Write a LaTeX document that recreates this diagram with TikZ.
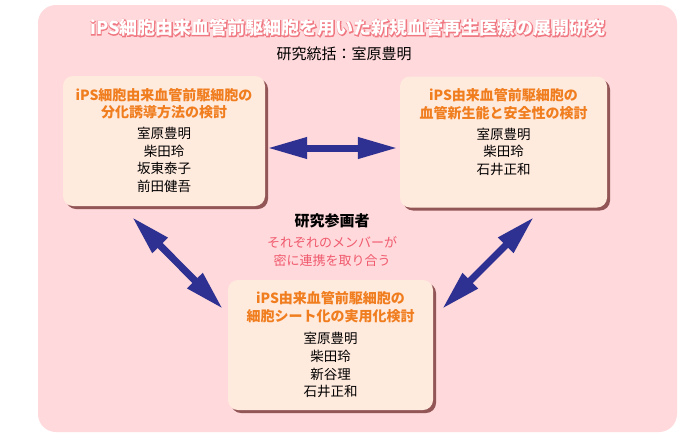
\documentclass[tikz,border=0pt]{standalone}
\usepackage{fontspec}
\setmainfont{Noto Sans CJK JP}
\newfontfamily\outlinefont[FakeBold=8]{Noto Sans CJK JP}
\usetikzlibrary{arrows.meta,shadows}

\definecolor{bgpink}{RGB}{255,217,219}
\definecolor{boxpeach}{RGB}{255,234,222}
\definecolor{titleorange}{RGB}{240,125,30}
\definecolor{arrowblue}{RGB}{46,49,146}
\definecolor{linkred}{RGB}{240,90,110}
\definecolor{outlinepink}{RGB}{240,120,130}

\tikzset{
  study/.style={fill=boxpeach, rounded corners=10pt, inner sep=0pt,
    drop shadow={shadow xshift=3pt, shadow yshift=-3pt, fill=black!70!red, opacity=.6}},
  studytitle/.style={font=\fontsize{14}{17.7}\selectfont\bfseries, text=titleorange, align=center, inner sep=0pt},
  members/.style={font=\fontsize{13.5}{17.7}\selectfont, align=center, inner sep=0pt},
  link/.style={{Triangle[length=40pt,width=20pt]}-{Triangle[length=40pt,width=20pt]}, line width=7pt, draw=arrowblue}
}

\begin{document}
\begin{tikzpicture}[x=1pt, y=-1pt]
    \useasboundingbox (0,0) rectangle (680,437);
    \fill[bgpink, rounded corners=18pt] (38,5) rectangle (677,432);

    % 見出し
    \node[font=\outlinefont\fontsize{18}{20}\selectfont\bfseries, text=outlinepink] (titleline) at (348,28)
        {iPS細胞由来血管前駆細胞を用いた新規血管再生医療の展開研究};
    \node[font=\fontsize{18}{20}\selectfont\bfseries, text=white] (title) at (titleline)
        {iPS細胞由来血管前駆細胞を用いた新規血管再生医療の展開研究};
    \node[font=\fontsize{15}{18}\selectfont] (lead) at (344,54) {研究統括：室原豊明};

    % 三つの研究
    \node[study, minimum width=202pt, minimum height=130pt] (b1) at (164,141) {};
    \node[study, minimum width=207pt, minimum height=131pt] (b2) at (503.5,142) {};
    \node[study, minimum width=205pt, minimum height=130pt] (b3) at (330.5,345) {};

    \node[studytitle] (t1) at ([yshift=-28pt]b1.north) {iPS細胞由来血管前駆細胞の\\分化誘導方法の検討};
    \node[members] (m1) at ([yshift=-84pt]b1.north) {室原豊明\\柴田玲\\坂東泰子\\前田健吾};

    \node[studytitle] (t2) at ([yshift=-27.5pt]b2.north) {iPS由来血管前駆細胞の\\血管新生能と安全性の検討};
    \node[members] (m2) at ([yshift=-75.5pt]b2.north) {室原豊明\\柴田玲\\石井正和};

    \node[studytitle] (t3) at ([yshift=-27pt]b3.north) {iPS由来血管前駆細胞の\\細胞シート化の実用化検討};
    \node[members] (m3) at ([yshift=-85.5pt]b3.north) {室原豊明\\柴田玲\\新谷理\\石井正和};

    % 中央
    \node[font=\fontsize{15}{18}\selectfont\bfseries] (team) at (332,221) {研究参画者};
    \node[font=\fontsize{13}{18}\selectfont, text=linkred, align=center] (note) at (332,252)
        {それぞれのメンバーが\\密に連携を取り合う};

    % 矢印
    \coordinate (l1) at (132,217);
    \coordinate (l3) at (223,309);
    \coordinate (r2) at (534,217);
    \coordinate (r3) at (442,309);
    \draw[link, shorten <=2pt, shorten >=2pt] ([yshift=-7pt]b1.east) -- ([yshift=-6pt]b2.west);
    \draw[link] (l1) -- (l3);
    \draw[link] (r2) -- (r3);
\end{tikzpicture}
\end{document}
